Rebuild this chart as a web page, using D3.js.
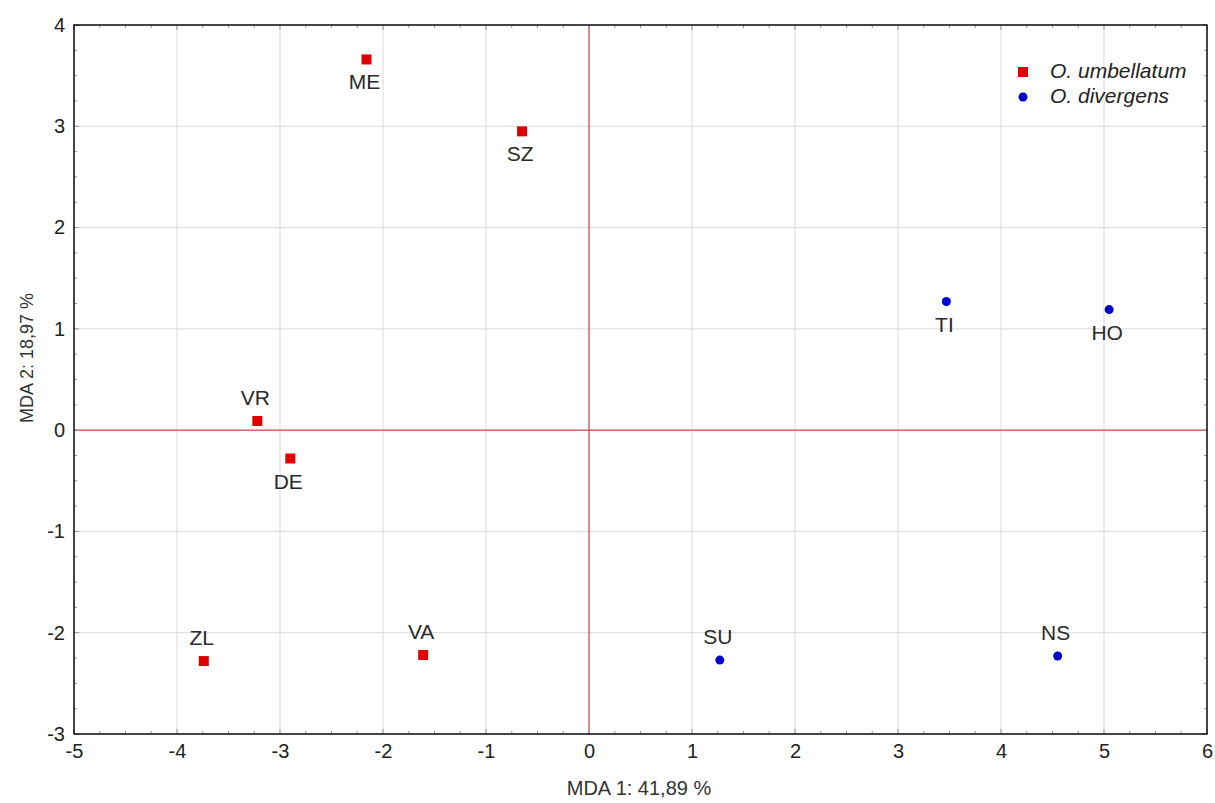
<!DOCTYPE html>
<html><head><meta charset="utf-8">
<script src="https://cdn.jsdelivr.net/npm/d3@7"></script>
<style>body{margin:0;background:#fff}svg{display:block}text{font-family:"Liberation Sans",Arial,sans-serif}</style>
</head><body>
<svg id="c" width="1215" height="803"></svg>
<script>
const groups = ["O. umbellatum", "O. divergens"];
const sites = ["ME","SZ","VR","DE","ZL","VA","SU","NS","TI","HO"];
const mda1 = [-2.16,-0.65,-3.22,-2.90,-3.74,-1.61,1.27,4.55,3.47,5.05];
const mda2 = [3.66,2.95,0.09,-0.28,-2.28,-2.22,-2.27,-2.23,1.27,1.19];
const group = [0,0,0,0,0,0,1,1,1,1];
const labelPos = ["below","below","above","below","above","above","above","above","below","below"];
const xTicks = [-5,-4,-3,-2,-1,0,1,2,3,4,5,6];
const yTicks = [-3,-2,-1,0,1,2,3,4];

const svg = d3.select("#c");
const L=74,R=1207,T=25,B=734;
const x = d3.scaleLinear().domain([-5,6]).range([L,R]);
const y = d3.scaleLinear().domain([-3,4]).range([B,T]);
const fmt = d => String(d); // plain hyphen-minus

// grid
svg.append("g").selectAll("line").data(xTicks).join("line")
 .attr("x1",d=>x(d)).attr("x2",d=>x(d)).attr("y1",T).attr("y2",B).attr("stroke","#d9d9d9");
svg.append("g").selectAll("line").data(yTicks).join("line")
 .attr("y1",d=>y(d)).attr("y2",d=>y(d)).attr("x1",L).attr("x2",R).attr("stroke","#d9d9d9");
// zero lines
svg.append("line").attr("x1",x(0)).attr("x2",x(0)).attr("y1",T).attr("y2",B).attr("stroke","#d42a2a");
svg.append("line").attr("y1",y(0)).attr("y2",y(0)).attr("x1",L).attr("x2",R).attr("stroke","#d42a2a");

// minor ticks (inward) on all sides
const xm = d3.range(-5,6.001,0.25), ym = d3.range(-3,4.001,0.25);
const tk = svg.append("g").attr("stroke","#999");
xm.forEach(v=>{const len=Number.isInteger(v)?5:3;
 tk.append("line").attr("x1",x(v)).attr("x2",x(v)).attr("y1",B).attr("y2",B-len);
 tk.append("line").attr("x1",x(v)).attr("x2",x(v)).attr("y1",T).attr("y2",T+len);});
ym.forEach(v=>{const len=Number.isInteger(v)?5:3;
 tk.append("line").attr("y1",y(v)).attr("y2",y(v)).attr("x1",L).attr("x2",L+len);
 tk.append("line").attr("y1",y(v)).attr("y2",y(v)).attr("x1",R).attr("x2",R-len);});

// frame
svg.append("rect").attr("x",L).attr("y",T).attr("width",R-L).attr("height",B-T).attr("fill","none").attr("stroke","#000").attr("stroke-width",1.4);

// axes tick labels
const xa = svg.append("g").attr("transform",`translate(0,${B})`).call(d3.axisBottom(x).tickValues(xTicks).tickSize(0).tickPadding(10).tickFormat(fmt));
xa.select(".domain").remove();
xa.selectAll("text").attr("font-size",20).attr("fill","#222").attr("font-family","Liberation Sans, Arial, sans-serif");
const ya = svg.append("g").attr("transform",`translate(${L},0)`).call(d3.axisLeft(y).tickValues(yTicks).tickSize(0).tickPadding(9).tickFormat(fmt));
ya.select(".domain").remove();
ya.selectAll("text").attr("font-size",20).attr("fill","#222").attr("font-family","Liberation Sans, Arial, sans-serif");

// axis titles
svg.append("text").attr("x",639).attr("y",795).attr("text-anchor","middle").attr("font-size",20).attr("fill","#333").text("MDA 1: 41,89 %");
svg.append("text").attr("transform","translate(33,358) rotate(-90)").attr("text-anchor","middle").attr("font-size",18).attr("fill","#333").text("MDA 2: 18,97 %");

// points
const data = sites.map((s,i)=>({s,x:mda1[i],y:mda2[i],g:group[i],p:labelPos[i]}));
const colors=["#e00000","#0000cc"];
const pg = svg.append("g");
data.forEach(d=>{
 if(d.g===0) pg.append("rect").attr("x",x(d.x)-5).attr("y",y(d.y)-5).attr("width",10).attr("height",10).attr("fill",colors[0]);
 else pg.append("circle").attr("cx",x(d.x)).attr("cy",y(d.y)).attr("r",4.5).attr("fill",colors[1]);
 pg.append("text").attr("x",x(d.x)-2).attr("y",d.p==="below"?y(d.y)+30:y(d.y)-16)
  .attr("text-anchor","middle").attr("font-size",21).attr("fill","#2a2a2a").text(d.s);
});

// legend
const lg = svg.append("g");
groups.forEach((g,i)=>{
 const yy=72+i*25;
 if(i===0) lg.append("rect").attr("x",1018).attr("y",yy-5).attr("width",10).attr("height",10).attr("fill",colors[0]);
 else lg.append("circle").attr("cx",1023).attr("cy",yy).attr("r",4.5).attr("fill",colors[1]);
 lg.append("text").attr("x",1050).attr("y",yy+6).attr("font-size",21).attr("font-style","italic").attr("fill","#222").text(g);
});
</script>
</body></html>
